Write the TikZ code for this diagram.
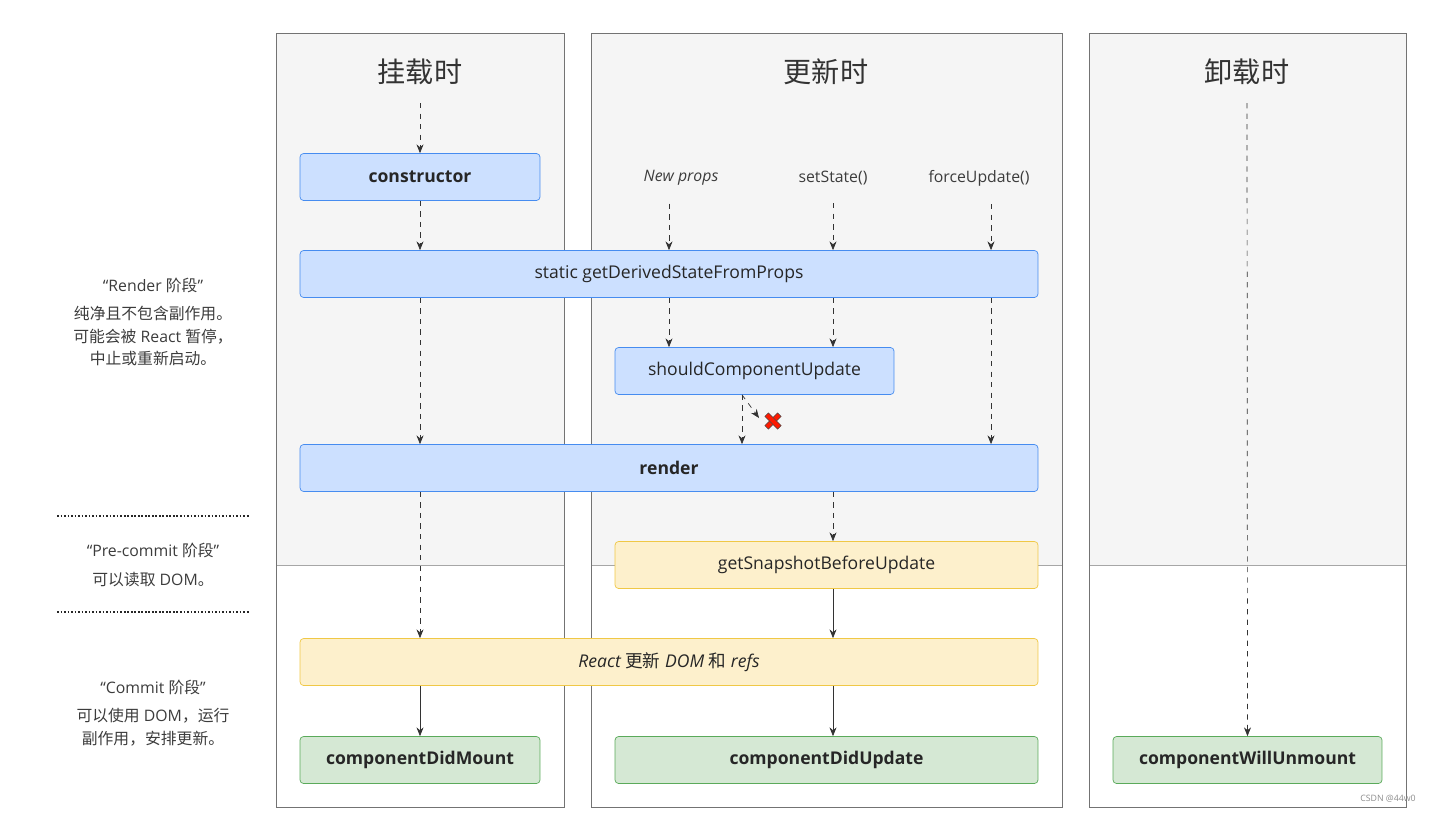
\documentclass[tikz,border=0pt]{standalone}
\usepackage{fontspec}
\setmainfont{Open Sans}
\newfontfamily\cjk{Noto Sans CJK SC}
\usetikzlibrary{positioning,arrows.meta}
\definecolor{panelgray}{RGB}{245,245,245}
\definecolor{blueface}{RGB}{204,224,255}
\definecolor{blueline}{RGB}{70,140,240}
\definecolor{yellowface}{RGB}{253,240,204}
\definecolor{yellowline}{RGB}{240,200,70}
\definecolor{greenface}{RGB}{213,232,212}
\definecolor{greenline}{RGB}{90,170,90}
\definecolor{textgray}{RGB}{60,60,60}
\tikzset{
    box/.style={rectangle, draw, rounded corners=2pt, minimum height=0.94cm, text=black!85, font=\fontsize{10}{12}\selectfont},
    blue box/.style={box, fill=blueface, draw=blueline},
    yellow box/.style={box, fill=yellowface, draw=yellowline},
    green box/.style={box, fill=greenface, draw=greenline, font=\bfseries\fontsize{10}{12}\selectfont},
    panel/.style={draw=black!55, line width=0.5pt},
    flow/.style={draw=black!80, -{Stealth[length=5pt,width=4pt]}},
    dflow/.style={flow, dashed},
    title/.style={font=\cjk\fontsize{16}{18}\selectfont, text=black!80},
    side/.style={font=\fontsize{9}{13}\selectfont, text=textgray, align=center}
}
\begin{document}
\begin{tikzpicture}[x=0.02cm, y=-0.02cm]
    \useasboundingbox (0,0) rectangle (1435,812);
    % panels
    \foreach \l/\r in {276/564, 591/1062, 1089/1406} {
        \fill[panelgray] (\l,33) rectangle (\r,565);
        \draw[black!35] (\l,565) -- (\r,565);
        \draw[panel] (\l,33) rectangle (\r,807);
    }
    \node[title] (tmount) at (420,72) {挂载时};
    \node[title] (tupdate) at (826,72) {更新时};
    \node[title] (tunmount) at (1247,72) {卸载时};
    \coordinate (mtop) at (420,103);
    \coordinate (utop) at (1247,103);

    % boxes
    \node[blue box, minimum width=4.8cm, font=\bfseries\fontsize{10}{12}\selectfont] (ctor) at (420,177) {constructor};
    \node[blue box, minimum width=14.76cm] (gdsfp) at (669,274) {static getDerivedStateFromProps};
    \node[blue box, minimum width=5.58cm] (scu) at (754.5,371) {shouldComponentUpdate};
    \node[blue box, minimum width=14.76cm, font=\bfseries\fontsize{10}{12}\selectfont] (render) at (669,468) {render};
    \node[yellow box, minimum width=8.46cm] (gsbu) at (826.5,565) {getSnapshotBeforeUpdate};
    \node[yellow box, minimum width=14.76cm, font=\itshape\fontsize{10}{12}\selectfont] (dom) at (669,662) {React {\cjk\upshape 更新} DOM {\cjk\upshape 和} refs};
    \node[green box, minimum width=4.8cm] (cdm) at (420,760) {componentDidMount};
    \node[green box, minimum width=8.46cm] (cdu) at (826.5,760) {componentDidUpdate};
    \node[green box, minimum width=5.38cm] (cwu) at (1247.5,760) {componentWillUnmount};

    % triggers
    \node[font=\itshape\fontsize{9}{11}\selectfont, text=textgray] (np) at (681,178) {New props};
    \node[font=\fontsize{9}{11}\selectfont, text=textgray] (ss) at (833,178) {setState()};
    \node[font=\fontsize{9}{11}\selectfont, text=textgray] (fu) at (979,178) {forceUpdate()};

    % mount path
    \draw[dflow] (mtop) -- (ctor);
    \draw[dflow] (ctor) -- (ctor |- gdsfp.north);
    \draw[dflow] (gdsfp.south -| ctor) -- (render.north -| ctor);
    \draw[dflow] (render.south -| ctor) -- (dom.north -| ctor);
    \draw[flow] (dom.south -| ctor) -- (cdm);

    % update path
    \draw[dflow] ([yshift=-0.24cm]np.south -| 669,0) -- (gdsfp.north -| 669,0);
    \draw[dflow] ([yshift=-0.24cm]ss.south) -- (gdsfp.north -| ss);
    \draw[dflow] ([yshift=-0.24cm]fu.south -| 991,0) -- (gdsfp.north -| 991,0);
    \draw[dflow] (gdsfp.south -| 669,0) -- (scu.north -| 669,0);
    \draw[dflow] (gdsfp.south -| ss) -- (scu.north -| ss);
    \draw[dflow] (gdsfp.south -| 991,0) -- (render.north -| 991,0);
    \draw[dflow] (scu.south -| 742,0) -- (render.north -| 742,0);
    \coordinate (xmark) at (773,421);
    \draw[dflow] (scu.south -| 742,0) -- (759,418);
    \draw[fill=red!80!orange, draw=black!70, line width=0.3pt, rotate around={45:(xmark)}]
        ([xshift=-9*0.02cm,yshift=-2.5*0.02cm]xmark) rectangle ([xshift=9*0.02cm,yshift=2.5*0.02cm]xmark);
    \draw[fill=red!80!orange, draw=black!70, line width=0.3pt, rotate around={-45:(xmark)}]
        ([xshift=-9*0.02cm,yshift=-2.5*0.02cm]xmark) rectangle ([xshift=9*0.02cm,yshift=2.5*0.02cm]xmark);
    \draw[dflow] (render.south -| ss) -- (gsbu.north -| ss);
    \draw[flow] (gsbu.south -| ss) -- (dom.north -| ss);
    \draw[flow] (dom.south -| ss) -- (cdu.north -| ss);

    % unmount path
    \draw[dflow] (utop) -- (cwu);

    % phases
    \node[side] (prender) at (153,322) {“Render {\cjk 阶段}”\\[3pt]{\cjk 纯净且不包含副作用。}\\{\cjk 可能会被} React {\cjk 暂停，}\\{\cjk 中止或重新启动。}};
    \node[side] (ppre) at (153,565) {“Pre-commit {\cjk 阶段}”\\[3pt]{\cjk 可以读取} DOM{\cjk 。}};
    \node[side] (pcommit) at (153,713) {“Commit {\cjk 阶段}”\\[3pt]{\cjk 可以使用} DOM{\cjk ，运行}\\{\cjk 副作用，安排更新。}};
    \draw[black!85, densely dotted, line width=1pt] (57,516) -- (250,516);
    \draw[black!85, densely dotted, line width=1pt] (57,612) -- (250,612);

    \node[font=\fontsize{5}{6}\selectfont, text=black!45] (mark) at (1388,799) {CSDN @44w0};
\end{tikzpicture}
\end{document}
